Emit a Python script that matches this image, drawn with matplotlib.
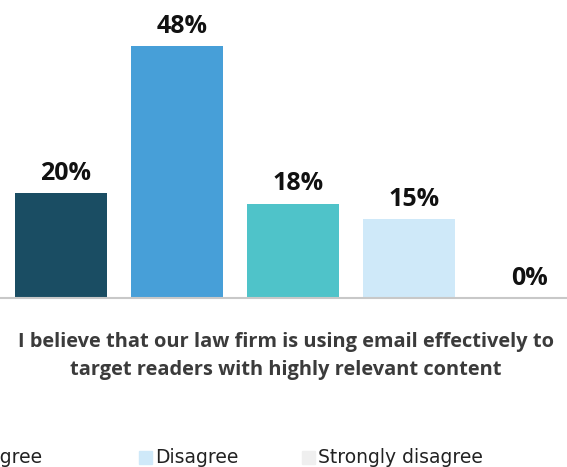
import matplotlib
matplotlib.use("Agg")
import matplotlib.pyplot as plt
from matplotlib.patches import Rectangle

# data
categories = ["Strongly agree", "Agree", "Neither agree nor disagree", "Disagree", "Strongly disagree"]
values = [20, 48, 18, 15, 0]
bar_colors = ["#1a4d63", "#479fd8", "#4fc3c9", "#cfe9f9", "#efefef"]
title_lines = ["I believe that our law firm is using email effectively to",
               "target readers with highly relevant content"]

W, H = 567, 467
plt.rcParams['font.family'] = ['Open Sans', 'DejaVu Sans']

fig = plt.figure(figsize=(W / 100, H / 100), dpi=100)

# axes spans whole width; picture is cropped on the right/left
base_px = 298
px_per_unit = 5.25
step_px = 116
first_center = 61
ax = fig.add_axes([0, (H - base_px) / H, 1, base_px / H])
x0 = -first_center / step_px
ax.set_xlim(x0, x0 + W / step_px)
ax.set_ylim(0, base_px / px_per_unit)

xs = list(range(len(values)))
ax.bar(xs, values, width=92 / step_px, color=bar_colors)

for x, v in zip(xs, values):
    ax.annotate(f"{v}%", (x, v), xytext=(3.5, 13 * 0.72), textcoords="offset points",
                ha="center", va="baseline", fontsize=18, fontweight="bold", color="#111111")

for s in ["top", "left", "right"]:
    ax.spines[s].set_visible(False)
ax.spines["bottom"].set_color("#c8c8c8")
ax.spines["bottom"].set_linewidth(1.5)
ax.set_xticks([])
ax.set_yticks([])
ax.patch.set_alpha(0)

# title under the chart
for line, y in zip(title_lines, [347, 375]):
    fig.text(286 / W, 1 - y / H, line, ha="center", va="baseline",
             fontsize=14.4, fontweight="bold", color="#3b3b3b")

# legend (cropped at left edge): first item only shows its tail
fig.text(42 / W, 1 - 463 / H, categories[2], ha="right", va="baseline",
         fontsize=13.5, color="#222222", family="DejaVu Sans")
for label, color, lx in zip(categories[3:], bar_colors[3:], [139, 302]):
    fig.patches.append(Rectangle((lx / W, (H - 464) / H), 13 / W, 13 / H,
                                 transform=fig.transFigure, color=color, figure=fig))
    fig.text((lx + 16) / W, 1 - 463 / H, label, ha="left", va="baseline",
             fontsize=13.5, color="#222222", family="DejaVu Sans")

fig.savefig("out.png", dpi=100)
